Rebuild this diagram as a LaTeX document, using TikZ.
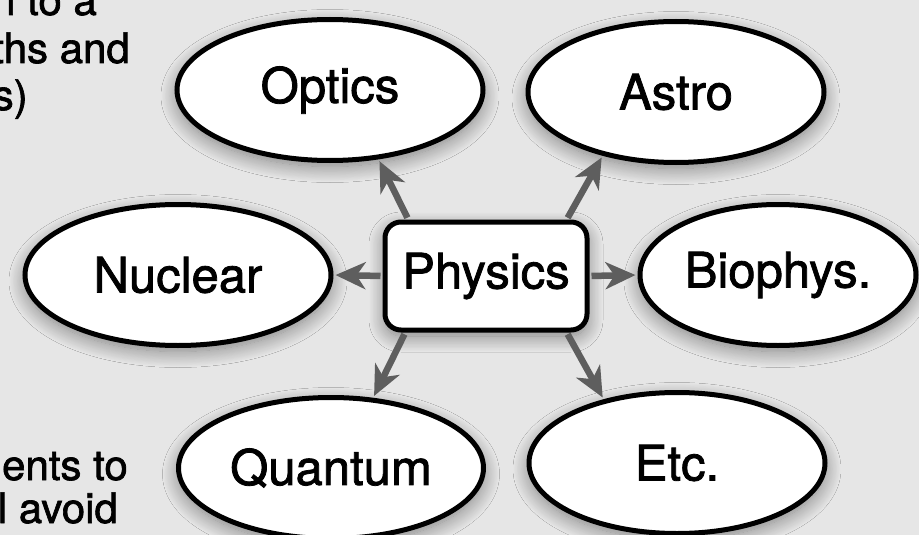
\documentclass[tikz,border=0pt]{standalone}
\usepackage{fontspec}
\setmainfont{TeX Gyre Heros}
\newfontfamily\boxfont{TeX Gyre Heros}[FakeBold=1.6]
\usepackage{tikz}
\usetikzlibrary{positioning, arrows.meta, shapes.geometric, shadows.blur}
\definecolor{canvas}  {HTML}{E6E6E6}
\definecolor{linkgray}{HTML}{5E5E5E}

\begin{document}
\begin{tikzpicture}[x=1pt, y=-1pt,
    field/.style={ellipse, draw=black, line width=5pt, fill=white,
      minimum height=141pt, inner sep=0pt,
      font=\boxfont\fontsize{49}{58}\selectfont,
      blur shadow={shadow xshift=0pt, shadow yshift=-6pt,
                   shadow blur radius=16pt, shadow blur steps=20,
                   shadow opacity=45}},
    hub/.style={rectangle, rounded corners=16pt, draw=black,
      line width=5pt, fill=white, minimum width=202pt,
      minimum height=108pt, inner sep=0pt,
      font=\boxfont\fontsize{49}{58}\selectfont,
      blur shadow={shadow xshift=0pt, shadow yshift=-6pt,
                   shadow blur radius=16pt, shadow blur steps=20,
                   shadow opacity=45}},
    link/.style={draw=linkgray, line width=6.5pt,
      -{Stealth[length=30pt, width=27pt, inset=9pt]},
      shorten >=2pt, shorten <=2pt},
    note/.style={anchor=base east, inner sep=0pt,
      font=\boxfont\fontsize{42}{47}\selectfont}]
  \useasboundingbox (0,0) rectangle (919,535);
  \clip (0,0) rectangle (919,535);
  \fill[canvas] (0,0) rectangle (919,535);

  % text running in from the left edge
  \node[note] (note1) at (97,15)  {n to a};
  \node[note] (note2) at (130,63) {ths and};
  \node[note] (note3) at (28,110) {s)};
  \node[note] (note4) at (128,480) {ents to};
  \node[note] (note5) at (118,523) {l avoid};

  \node[hub] (phys) at (486,276) {Physics};

  \foreach \nm/\x/\y/\w/\lbl in {%
      optics/330/90/306/Optics,    astro/676/92/296/Astro,
      nuclear/178/275/306/Nuclear, biophys/778/275/276/Biophys.,
      quantum/331/468/305/Quantum, etc/677/463/296/Etc.}
  {
    \node[field, minimum width=\w pt] (\nm) at (\x,\y) {\lbl};
  }

  \foreach \a/\nm/\b in {%
      144/optics/305, 35/astro/221, 180/nuclear/0,
      0/biophys/180,  215/quantum/59, 325/etc/139}
  {
    \draw[link] (phys.\a) -- (\nm.\b);
  }
\end{tikzpicture}
\end{document}
